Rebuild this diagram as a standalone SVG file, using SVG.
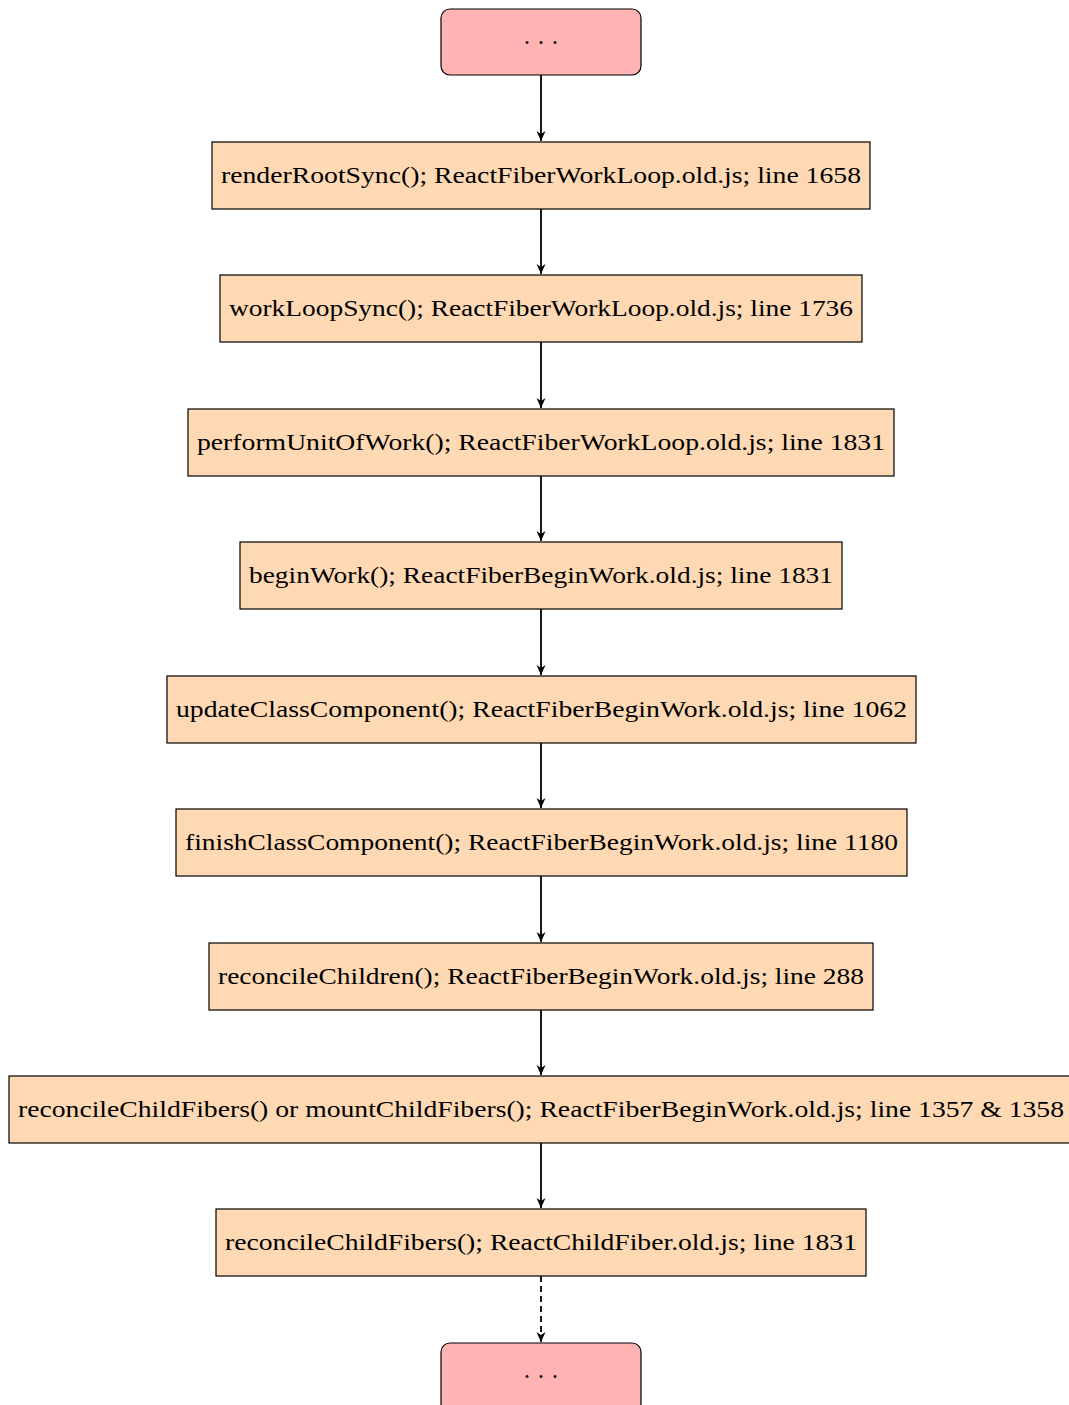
<svg xmlns="http://www.w3.org/2000/svg" width="1069" height="1405" viewBox="0 0 1069 1405">
<style>
.box{fill:#FFD9B3;stroke:#000;stroke-width:1.2}
.term{fill:#FFB3B3;stroke:#000;stroke-width:1.2}
.lbl{font-family:"Liberation Serif","Times New Roman",serif;font-size:24px;fill:#000}
.dots{font-family:"DejaVu Serif","Liberation Serif",serif;font-size:22px;fill:#000;text-anchor:middle}
.edge{stroke:#000;stroke-width:1.8;fill:none}
.dash{stroke-dasharray:6,4}
</style>
<defs>
<marker id="ah" markerWidth="12" markerHeight="12" refX="10" refY="6" orient="auto" markerUnits="userSpaceOnUse">
<path d="M0,1.5 L10,6 L0,10.5 L3,6 Z" fill="#000"/>
</marker>
</defs>
<g id="n0"><rect class="term" x="441" y="9" width="200" height="66" rx="9"/><text class="dots" x="541" y="50">· · ·</text></g>
<g id="n1"><rect class="box" x="212" y="142" width="658" height="67"/><text class="lbl" x="221" y="183" textLength="640" lengthAdjust="spacingAndGlyphs">renderRootSync(); ReactFiberWorkLoop.old.js; line 1658</text></g>
<g id="n2"><rect class="box" x="220" y="275" width="642" height="67"/><text class="lbl" x="229" y="316" textLength="624" lengthAdjust="spacingAndGlyphs">workLoopSync(); ReactFiberWorkLoop.old.js; line 1736</text></g>
<g id="n3"><rect class="box" x="188" y="409" width="706" height="67"/><text class="lbl" x="197" y="450" textLength="688" lengthAdjust="spacingAndGlyphs">performUnitOfWork(); ReactFiberWorkLoop.old.js; line 1831</text></g>
<g id="n4"><rect class="box" x="240" y="542" width="602" height="67"/><text class="lbl" x="249" y="583" textLength="584" lengthAdjust="spacingAndGlyphs">beginWork(); ReactFiberBeginWork.old.js; line 1831</text></g>
<g id="n5"><rect class="box" x="167" y="676" width="749" height="67"/><text class="lbl" x="176" y="717" textLength="731" lengthAdjust="spacingAndGlyphs">updateClassComponent(); ReactFiberBeginWork.old.js; line 1062</text></g>
<g id="n6"><rect class="box" x="176" y="809" width="731" height="67"/><text class="lbl" x="185" y="850" textLength="713" lengthAdjust="spacingAndGlyphs">finishClassComponent(); ReactFiberBeginWork.old.js; line 1180</text></g>
<g id="n7"><rect class="box" x="209" y="943" width="664" height="67"/><text class="lbl" x="218" y="984" textLength="646" lengthAdjust="spacingAndGlyphs">reconcileChildren(); ReactFiberBeginWork.old.js; line 288</text></g>
<g id="n8"><rect class="box" x="9" y="1076" width="1064" height="67"/><text class="lbl" x="18" y="1117" textLength="1046" lengthAdjust="spacingAndGlyphs">reconcileChildFibers() or mountChildFibers(); ReactFiberBeginWork.old.js; line 1357 &amp; 1358</text></g>
<g id="n9"><rect class="box" x="216" y="1209" width="650" height="67"/><text class="lbl" x="225" y="1250" textLength="632" lengthAdjust="spacingAndGlyphs">reconcileChildFibers(); ReactChildFiber.old.js; line 1831</text></g>
<g id="n10"><rect class="term" x="441" y="1343" width="200" height="70" rx="9"/><text class="dots" x="541" y="1384">· · ·</text></g>
<g id="edges">
<line class="edge" x1="541" y1="75" x2="541" y2="141" marker-end="url(#ah)"/>
<line class="edge" x1="541" y1="209" x2="541" y2="274" marker-end="url(#ah)"/>
<line class="edge" x1="541" y1="342" x2="541" y2="408" marker-end="url(#ah)"/>
<line class="edge" x1="541" y1="476" x2="541" y2="541" marker-end="url(#ah)"/>
<line class="edge" x1="541" y1="609" x2="541" y2="675" marker-end="url(#ah)"/>
<line class="edge" x1="541" y1="743" x2="541" y2="808" marker-end="url(#ah)"/>
<line class="edge" x1="541" y1="876" x2="541" y2="942" marker-end="url(#ah)"/>
<line class="edge" x1="541" y1="1010" x2="541" y2="1075" marker-end="url(#ah)"/>
<line class="edge" x1="541" y1="1143" x2="541" y2="1208" marker-end="url(#ah)"/>
<line class="edge dash" x1="541" y1="1276" x2="541" y2="1342" marker-end="url(#ah)"/>
</g>
</svg>
